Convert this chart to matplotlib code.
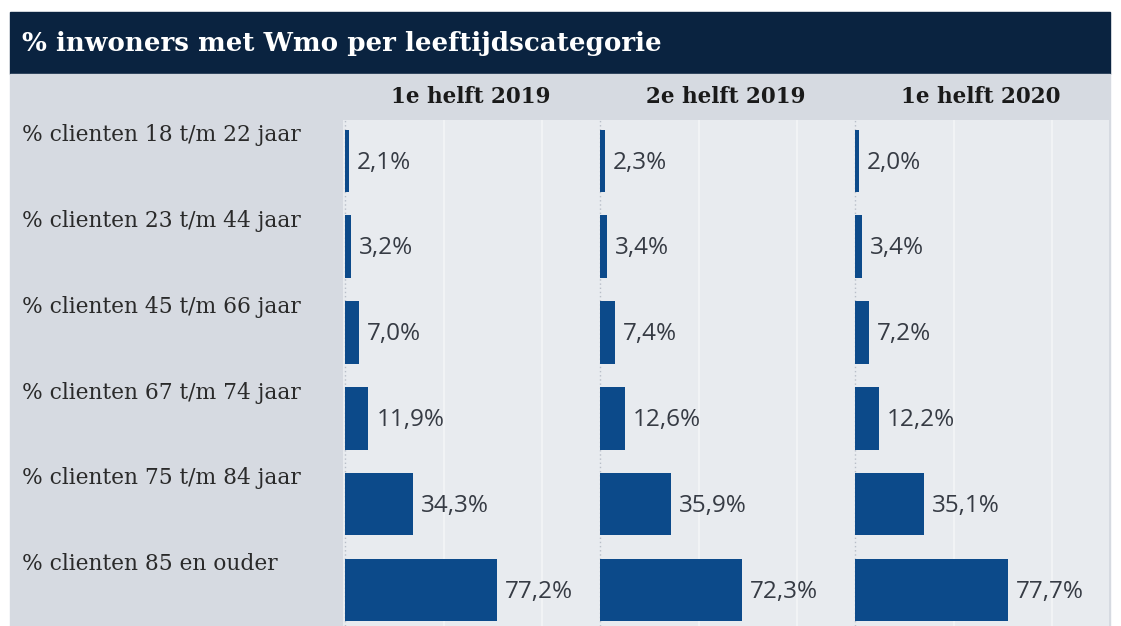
# %%
import matplotlib
matplotlib.use('Agg')
import matplotlib.pyplot as plt
from matplotlib.patches import Rectangle
import matplotlib.transforms as mtransforms


# %% data
title = '% inwoners met Wmo per leeftijdscategorie'
categories = [
    '% clienten 18 t/m 22 jaar',
    '% clienten 23 t/m 44 jaar',
    '% clienten 45 t/m 66 jaar',
    '% clienten 67 t/m 74 jaar',
    '% clienten 75 t/m 84 jaar',
    '% clienten 85 en ouder',
]
periods = ['1e helft 2019', '2e helft 2019', '1e helft 2020']
h1_2019 = [2.1, 3.2, 7.0, 11.9, 34.3, 77.2]
h2_2019 = [2.3, 3.4, 7.4, 12.6, 35.9, 72.3]
h1_2020 = [2.0, 3.4, 7.2, 12.2, 35.1, 77.7]
series = [h1_2019, h2_2019, h1_2020]

# kleuren
navy = '#0a2340'
bar_color = '#0c4a8a'
label_bg = '#d6dae1'
panel_bg = '#e8ebef'
text_color = '#363b44'

W, H = 1121, 626


def fx(px):
    return px / W


def fy(py):
    return 1 - py / H


# %% figuur + achtergrond
fig = plt.figure(figsize=(W / 100, H / 100), dpi=100)
fig.patch.set_facecolor('white')

# titelbalk
fig.patches.append(Rectangle((fx(10), fy(74)), fx(1110) - fx(10), fy(12) - fy(74),
                             transform=fig.transFigure, color=navy, zorder=-2))
# grijze kop + labelkolom
fig.patches.append(Rectangle((fx(10), fy(626)), fx(1110) - fx(10), fy(74) - fy(626),
                             transform=fig.transFigure, color=label_bg, zorder=-2))
fig.text(fx(22), fy(44), title, color='white', fontsize=18.8, fontweight='bold',
         family='DejaVu Serif', va='center', ha='left')

# %% panelen
panel_left = [343, 598, 853]
panel_w = 256
top, bottom = 120, 626
ypos = list(range(len(categories)))

axes = []
for i, (name, vals) in enumerate(zip(periods, series)):
    ax = fig.add_axes([fx(panel_left[i]), fy(bottom), panel_w / W, (bottom - top) / H])
    ax.set_zorder(1)
    ax.set_facecolor(panel_bg)
    ax.barh(ypos, vals, height=0.73, color=bar_color, zorder=3)
    ax.set_xlim(-1, 128.9)
    ax.set_ylim(5.42, -0.477)
    # rasterlijnen
    ax.axvline(0, color='#b8bec8', lw=1, ls=(0, (1, 2)), zorder=2)
    for g in [50, 100]:
        ax.axvline(g, color='#f4f5f7', lw=1.2, zorder=1)
    for y, v in zip(ypos, vals):
        ax.text(v + 4, y + 0.02, f'{v:.1f}%'.replace('.', ','), va='center', ha='left',
                fontsize=17.5, color=text_color, family='Open Sans')
    ax.set_xticks([])
    ax.set_yticks([])
    for s in ax.spines.values():
        s.set_visible(False)
    fig.text(fx(panel_left[i] + panel_w / 2), fy(97), name, ha='center', va='center',
             fontsize=15.5, fontweight='bold', family='DejaVu Serif', color='#1a1a1a')
    axes.append(ax)

# rijlabels links
ax0 = axes[0]
trans = mtransforms.blended_transform_factory(fig.transFigure, ax0.transData)
for y, cat in zip(ypos, categories):
    ax0.text(fx(22), y - 0.3, cat, transform=trans, ha='left', va='center',
             fontsize=15.7, family='DejaVu Serif', color='#2a2a2a', clip_on=False)

plt.savefig('out.png', dpi=100, facecolor=fig.get_facecolor())
